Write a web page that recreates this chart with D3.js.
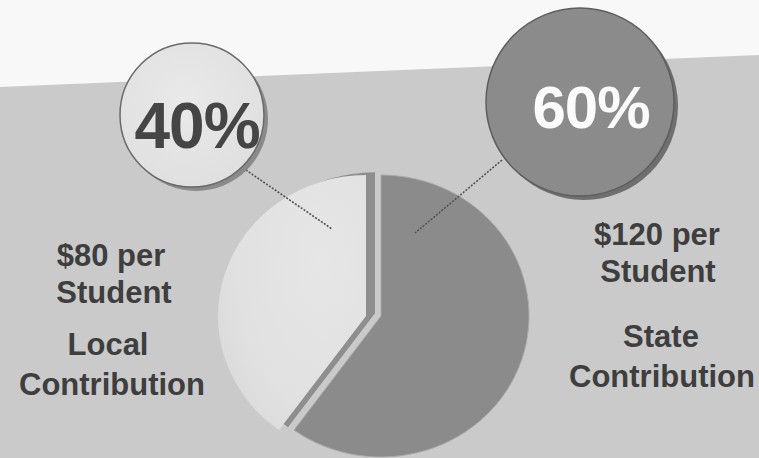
<!DOCTYPE html>
<html>
<head>
<meta charset="utf-8">
<script src="https://cdn.jsdelivr.net/npm/d3@7/dist/d3.min.js"></script>
<style>
  html, body { margin: 0; padding: 0; background: #f8f8f8; }
  svg { display: block; }
  text { font-family: "Liberation Sans", Arial, Helvetica, sans-serif; font-weight: bold; }
</style>
</head>
<body>
<svg id="chart" width="759" height="458"></svg>
<script>
// ---- data ----
const categories = ["Local", "State"];
const shares = [40, 60];            // percent of per-student funding
const perStudent = [80, 120];       // dollars per student
const shareLabels = ["40%", "60%"];

// ---- layout ----
const W = 759, H = 458;
const svg = d3.select("#chart");
const defs = svg.append("defs");

// background: white top, grey slanted band
svg.append("rect").attr("width", W).attr("height", H).attr("fill", "#f8f8f8");
svg.append("path")
  .attr("d", d3.line()([[0, 87], [W, 55], [W, H], [0, H]]) + "Z")
  .attr("fill", "#cacaca");

// gradients
const gDark = defs.append("linearGradient").attr("id", "gDark")
  .attr("gradientUnits", "userSpaceOnUse")
  .attr("x1", 381).attr("y1", 0).attr("x2", 530).attr("y2", 0);
[[0, "#8b8b8b"], [0.08, "#959595"], [0.3, "#8e8e8e"], [0.55, "#8b8b8b"],
 [0.75, "#888888"], [0.9, "#838383"], [1, "#8c8c8c"]]
  .forEach(([o, c]) => gDark.append("stop").attr("offset", o).attr("stop-color", c));

const gLight = defs.append("radialGradient").attr("id", "gLight")
  .attr("cx", "0.7").attr("cy", "0.35").attr("r", "0.8");
[[0, "#e6e6e6"], [0.7, "#e1e1e1"], [1, "#dadada"]]
  .forEach(([o, c]) => gLight.append("stop").attr("offset", o).attr("stop-color", c));

const gBubble = defs.append("radialGradient").attr("id", "gBubble")
  .attr("cx", "0.45").attr("cy", "0.4").attr("r", "0.7");
[[0, "#e9e9e9"], [1, "#dedede"]]
  .forEach(([o, c]) => gBubble.append("stop").attr("offset", o).attr("stop-color", c));

// ---- pie ----
const cx = 381, cy = 316, rx = 148, ry = 141;
const pie = d3.pie().sort(null)
  .startAngle(-2 * Math.PI * shares[0] / 100)
  .endAngle(2 * Math.PI * (1 - shares[0] / 100));
const arcs = pie(shares);
const arc = d3.arc().innerRadius(0).outerRadius(rx);

const pieG = svg.append("g")
  .attr("transform", `translate(${cx},${cy}) scale(1,${ry / rx})`);

// State slice (dark)
pieG.append("path")
  .attr("d", arc(arcs[1]))
  .attr("fill", "url(#gDark)")
  .attr("stroke", "#a9a9a9").attr("stroke-width", 1);

// Local slice (light, exploded) with its dark side edge
const lg = pieG.append("g").attr("transform", "translate(-15,0)");
lg.append("path")
  .attr("d", arc(arcs[0]))
  .attr("transform", "translate(9,-3)")
  .attr("fill", "#8e8e8e");
lg.append("path")
  .attr("d", arc(arcs[0]))
  .attr("fill", "url(#gLight)");

// ---- leader lines ----
const leaders = [
  [[243, 168], [332, 229]],
  [[502, 160], [415, 233]]
];
svg.selectAll("line.leader").data(leaders).enter().append("line")
  .attr("class", "leader")
  .attr("x1", d => d[0][0]).attr("y1", d => d[0][1])
  .attr("x2", d => d[1][0]).attr("y2", d => d[1][1])
  .attr("stroke", "#505050").attr("stroke-width", 1.6)
  .attr("stroke-dasharray", "2,1.5");

// ---- callout bubbles ----
const bubbles = [
  { x: 192, y: 115, r: 72, fill: "url(#gBubble)", stroke: "#6a6a6a", txt: "#454545", tx: 197, ty: 148, fs: 64 },
  { x: 580, y: 102, r: 94, fill: "#8b8b8b", stroke: "#5e5e5e", txt: "#fbfbfb", tx: 591, ty: 128, fs: 60 }
];
bubbles.forEach((b, i) => {
  svg.append("circle").attr("cx", b.x + 4).attr("cy", b.y + 4).attr("r", b.r)
    .attr("fill", i === 0 ? "#8a8a8a" : "#6f6f6f");
  svg.append("circle").attr("cx", b.x).attr("cy", b.y).attr("r", b.r)
    .attr("fill", b.fill).attr("stroke", b.stroke).attr("stroke-width", 1.5);
  svg.append("text").attr("x", b.tx).attr("y", b.ty)
    .attr("text-anchor", "middle")
    .attr("font-size", b.fs)
    .attr("fill", b.txt)
    .attr("letter-spacing", -1)
    .text(shareLabels[i]);
});

// ---- side labels ----
const labelBlocks = [
  { lines: [`$${perStudent[0]} per`, "Student", categories[0], "Contribution"],
    xs: [111, 114, 108, 112], ys: [266, 303, 355, 395] },
  { lines: [`$${perStudent[1]} per`, "Student", categories[1], "Contribution"],
    xs: [657, 658, 661, 662], ys: [245, 282, 347, 387] }
];
labelBlocks.forEach(b => {
  svg.append("g").selectAll("text").data(b.lines).enter().append("text")
    .attr("x", (d, i) => b.xs[i]).attr("y", (d, i) => b.ys[i])
    .attr("text-anchor", "middle")
    .attr("font-size", 31)
    .attr("fill", "#3e3e3e")
    .text(d => d);
});
</script>
</body>
</html>
